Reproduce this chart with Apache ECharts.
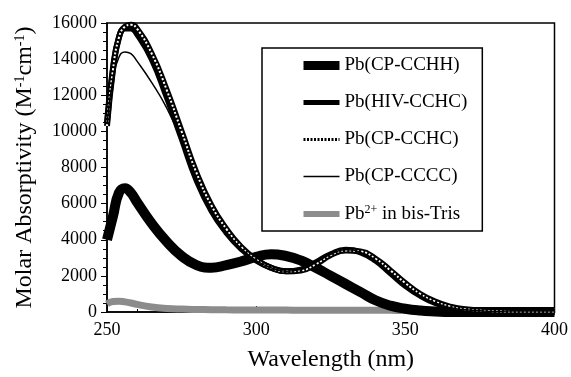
<!DOCTYPE html>
<html>
<head>
<meta charset="utf-8">
<script src="https://cdn.jsdelivr.net/npm/echarts@6/dist/echarts.min.js"></script>
<style>
  html, body { margin: 0; padding: 0; background: #fff; }
  #chart { width: 571px; height: 377px; }
</style>
</head>
<body>
<div id="chart"></div>
<script>
  // 波长 (nm)
  var wavelength = [250, 252, 254, 256, 258, 260, 265, 270, 275, 280, 285, 290, 295, 300, 305, 310, 315, 320, 325, 330, 335, 340, 345, 350, 355, 360, 365, 370, 380, 390, 400];

  var cpCCHH = [4000, 5300, 6600, 6850, 6600, 6100, 4900, 3900, 3100, 2600, 2450, 2600, 2800, 3050, 3200, 3100, 2850, 2450, 2000, 1550, 1100, 650, 350, 180, 80, 30, 0, 0, 0, 0, 0];
  var hivCCHC = [10500, 13500, 15200, 15700, 15700, 15400, 14000, 11900, 9600, 7300, 5600, 4400, 3500, 2850, 2450, 2250, 2350, 2750, 3200, 3450, 3300, 2850, 2150, 1450, 900, 500, 250, 120, 30, 0, 0];
  var cpCCHC = [10300, 13400, 15200, 15800, 15900, 15700, 14300, 12300, 10000, 7700, 5900, 4600, 3600, 2900, 2450, 2250, 2300, 2650, 3150, 3400, 3350, 2950, 2300, 1600, 1000, 580, 300, 150, 40, 0, 0];
  var cpCCCC = [10400, 12900, 14100, 14400, 14300, 13900, 12700, 11300, 9500, 7300, 5600, 4400, 3500, 2850, 2450, 2250, 2350, 2750, 3200, 3450, 3300, 2850, 2150, 1450, 900, 500, 250, 120, 30, 0, 0];
  var pbTris = [450, 580, 600, 560, 500, 420, 280, 200, 160, 140, 130, 120, 115, 110, 110, 105, 100, 100, 100, 95, 95, 90, 90, 85, 85, 80, 80, 75, 60, 45, 30];

  var xTicks = {min: 250, max: 400, interval: 50};
  var yTicks = {min: 0, max: 16000, interval: 2000};

  var serif = '"Liberation Serif", "DejaVu Serif", serif';

  function pairs(vals) {
    return wavelength.map(function (w, i) { return [w, vals[i]]; });
  }

  var chart = echarts.init(document.getElementById('chart'));

  chart.setOption({
    animation: false,
    color: ['#000'],
    grid: {
      left: 107,
      right: 16,
      top: 23,
      bottom: 60,
      show: true,
      borderColor: '#000',
      borderWidth: 1.5,
      backgroundColor: 'transparent'
    },
    legend: {
      orient: 'vertical',
      left: 262,
      top: 48,
      padding: [8, 15, 7, 37],
      itemWidth: 36,
      itemHeight: 14,
      itemGap: 18,
      itemTextGap: 12,
      borderColor: '#000',
      borderWidth: 1.5,
      itemStyle: {opacity: 0},
      textStyle: {
        fontFamily: serif,
        fontSize: 19,
        color: '#000',
        rich: {
          t: {fontFamily: serif, fontSize: 19, lineHeight: 20, color: '#000'},
          s: {fontFamily: serif, fontSize: 12, lineHeight: 20, color: '#000', verticalAlign: 'top', padding: [0, 0, 8, 0]}
        }
      },
      formatter: function (name) {
        if (name === 'Pb2+') {
          return '{t|Pb}{s|2+}{t| in bis-Tris}';
        }
        return '{t|' + name + '}';
      },
      data: [
        {name: 'Pb(CP-CCHH)', lineStyle: {width: 9}},
        {name: 'Pb(HIV-CCHC)', lineStyle: {width: 5}},
        {name: 'Pb(CP-CCHC)', lineStyle: {width: 3, type: [2, 1.5]}},
        {name: 'Pb(CP-CCCC)', lineStyle: {width: 1.5}},
        {name: 'Pb2+', lineStyle: {width: 6, color: '#8c8c8c'}}
      ]
    },
    xAxis: {
      type: 'value',
      min: xTicks.min,
      max: xTicks.max,
      interval: xTicks.interval,
      name: 'Wavelength (nm)',
      nameLocation: 'middle',
      nameGap: 36,
      nameTextStyle: {fontFamily: serif, fontSize: 24, color: '#000'},
      axisLine: {lineStyle: {color: '#000', width: 1.5}},
      axisTick: {inside: true, length: 6, lineStyle: {color: '#000'}},
      minorTick: {show: true, splitNumber: 5, length: 3, lineStyle: {color: '#000'}},
      axisLabel: {fontFamily: serif, fontSize: 18, color: '#000', margin: 9},
      splitLine: {show: false}
    },
    yAxis: {
      type: 'value',
      min: yTicks.min,
      max: yTicks.max,
      interval: yTicks.interval,
      name: '{t|Molar Absorptivity (M}{s|-1}{t|cm}{s|-1}{t|)}',
      nameLocation: 'middle',
      nameGap: 70,
      nameTextStyle: {
        rich: {
          t: {fontFamily: serif, fontSize: 24, color: '#000'},
          s: {fontFamily: serif, fontSize: 14, color: '#000', verticalAlign: 'top', padding: [0, 0, 10, 0]}
        }
      },
      axisLine: {lineStyle: {color: '#000', width: 1.5}},
      axisTick: {length: 6, lineStyle: {color: '#000'}},
      minorTick: {show: true, splitNumber: 4, length: 4, lineStyle: {color: '#000'}},
      axisLabel: {
        fontFamily: serif, fontSize: 18, color: '#000', margin: 10,
        formatter: function (v) { return String(v); }
      },
      splitLine: {show: false}
    },
    series: [
      {
        name: 'Pb2+', type: 'line', smooth: true, symbol: 'none',
        itemStyle: {color: '#8c8c8c'},
        lineStyle: {color: '#8c8c8c', width: 7},
        data: pairs(pbTris)
      },
      {
        name: 'Pb(CP-CCHH)', type: 'line', smooth: true, symbol: 'none',
        lineStyle: {color: '#000', width: 10},
        data: pairs(cpCCHH)
      },
      {
        name: 'Pb(HIV-CCHC)', type: 'line', smooth: true, symbol: 'none',
        lineStyle: {color: '#000', width: 6},
        data: pairs(hivCCHC)
      },
      {
        name: 'Pb(CP-CCHC)', type: 'line', smooth: true, symbol: 'none',
        lineStyle: {color: '#000', width: 6},
        data: pairs(cpCCHC)
      },
      {
        // 斜线纹理
        name: 'cchc-hatch', type: 'line', smooth: true, symbol: 'none',
        lineStyle: {color: '#fff', width: 2, type: [2, 2]},
        data: pairs(cpCCHC)
      },
      {
        name: 'Pb(CP-CCCC)', type: 'line', smooth: true, symbol: 'none',
        lineStyle: {color: '#000', width: 1.5},
        data: pairs(cpCCCC)
      }
    ]
  });
</script>
</body>
</html>
